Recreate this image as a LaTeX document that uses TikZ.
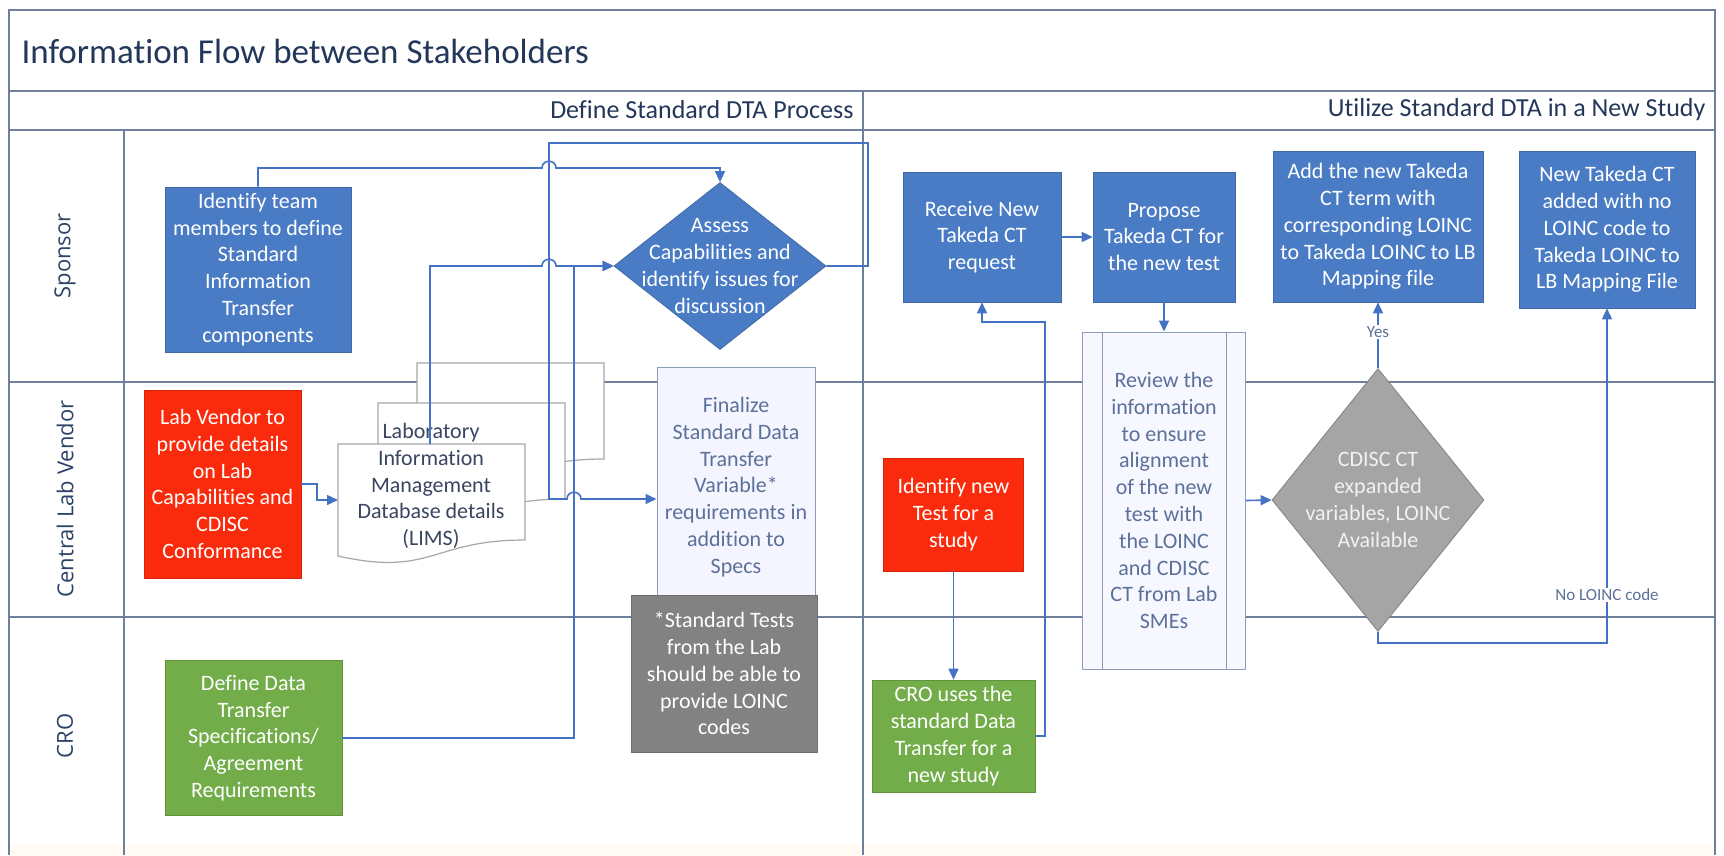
\documentclass[tikz,border=0pt]{standalone}
\usepackage{fontspec}
\setmainfont{Carlito}[Ligatures={NoCommon}]
\newfontfamily\lanefont{Open Sans}
\usetikzlibrary{shapes.geometric,arrows.meta}
\definecolor{frameC}{HTML}{6F7F9C}
\definecolor{blueC}{HTML}{4A7CC5}
\definecolor{redC}{HTML}{FA2B0C}
\definecolor{greenC}{HTML}{72AD4A}
\definecolor{noteC}{HTML}{828282}
\definecolor{diaC}{HTML}{A5A5A5}
\definecolor{lineC}{HTML}{4472C4}
\definecolor{titleC}{HTML}{23375A}
\definecolor{softC}{HTML}{5B7199}
\definecolor{laneC}{HTML}{2C4266}
\definecolor{docC}{HTML}{A6A6A6}
\definecolor{docT}{HTML}{3A4560}
\definecolor{bandC}{HTML}{FFFBF3}
\begin{document}
\begin{tikzpicture}[x=1pt,y=-1pt,
  font=\fontsize{22}{26.8}\selectfont,
  frame/.style={draw=frameC,line width=1.8pt},
  box/.style={rectangle,inner sep=0pt,align=center,text=white},
  bluebox/.style={box,fill=blueC,draw=blueC!85!black,line width=0.6pt},
  redbox/.style={box,fill=redC,draw=redC!85!black,line width=0.6pt},
  greenbox/.style={box,fill=greenC,draw=greenC!85!black,line width=0.6pt},
  notebox/.style={box,fill=noteC,draw=noteC!85!black,line width=0.6pt},
  softbox/.style={box,text=softC,draw=softC!70!white,line width=1pt},
  dia/.style={diamond,inner sep=0pt,line width=0.8pt},
  lbl/.style={inner sep=0pt,align=center},
  lane/.style={rotate=90,text=laneC,font=\lanefont\fontsize{22}{26}\selectfont},
  docst/.style={fill=white,draw=docC,line width=1.2pt},
  conn/.style={draw=lineC,line width=1.6pt,-{Triangle[length=11pt,width=10pt]}},
  cond/.style={fill=white,text=softC,inner sep=1.5pt,font=\fontsize{17}{20}\selectfont}
]
\useasboundingbox (0,0) rectangle (1724,855);
\fill[white] (0,0) rectangle (1724,855);
\fill[bandC] (9,845) rectangle (1715,855);

% frame
\draw[frame] (9,855) -- (9,10) -- (1715,10) -- (1715,855);
\draw[frame] (9,91) -- (1715,91);
\draw[frame] (9,130) -- (1715,130);
\draw[frame] (9,382) -- (1715,382);
\draw[frame] (9,617) -- (1715,617);
\draw[frame] (124,130) -- (124,855);
\draw[frame] (863,91) -- (863,855);

\node[anchor=west,text=titleC,font=\fontsize{35}{40}\selectfont] (title) at (18,51) {Information Flow between Stakeholders};
\node[anchor=east,text=titleC,font=\fontsize{26}{30}\selectfont] (ph1) at (857,110) {Define Standard DTA Process};
\node[anchor=east,text=titleC,font=\fontsize{26}{30}\selectfont] (ph2) at (1709,110) {Utilize Standard DTA in a New Study};

\node[lane] (l1) at (65,256) {Sponsor};
\node[lane] (l2) at (65,499) {Central Lab Vendor};
\node[lane] (l3) at (65,736) {CRO};

% documents (LIMS)
\filldraw[docst] (417,363) -- (604,363) -- (604,459) .. controls (510.5,459) and (510.5,496) .. (417,475) -- cycle;
\filldraw[docst] (378,403) -- (565,403) -- (565,499) .. controls (471.5,499) and (471.5,536) .. (378,515) -- cycle;
\filldraw[docst] (338,444) -- (525,444) -- (525,540) .. controls (431.5,540) and (431.5,577) .. (338,556) -- cycle;
\coordinate (Dtop) at (430,444);
\coordinate (Dleft) at (338,500);
\node[lbl,text=docT] (D) at (431,486) {Laboratory\\Information\\Management\\Database details\\(LIMS)};

% left phase nodes
\node[bluebox,minimum width=186,minimum height=165] (A) at (258,269.5) {Identify team\\members to define\\Standard\\Information\\Transfer\\components};
\node[dia,fill=blueC,draw=blueC!85!black,minimum width=212,minimum height=167] (B) at (720,266) {};
\node[lbl,text=white] (Bt) at (720,266) {Assess\\Capabilities and\\identify issues for\\discussion};
\node[redbox,minimum width=157,minimum height=188] (C) at (222.5,484) {Lab Vendor to\\provide details\\on Lab\\Capabilities and\\CDISC\\Conformance};
\node[softbox,fill=blue!4!white,minimum width=158,minimum height=240] (E) at (736,487) {Finalize\\Standard Data\\Transfer\\Variable*\\requirements in\\addition to\\Specs};
\node[notebox,minimum width=186,minimum height=157] (Nt) at (724,673.5) {*Standard Tests\\from the Lab\\should be able to\\provide LOINC\\codes};
\node[greenbox,minimum width=177,minimum height=155] (F) at (253.5,738) {Define Data\\Transfer\\Specifications/\\Agreement\\Requirements};

% right phase nodes
\node[bluebox,minimum width=158,minimum height=130] (G) at (982,237) {Receive New\\Takeda CT\\request};
\node[bluebox,minimum width=142,minimum height=130] (H) at (1164,237) {Propose\\Takeda CT for\\the new test};
\node[bluebox,minimum width=210,minimum height=151] (I) at (1378,226.5) {Add the new Takeda\\CT term with\\corresponding LOINC\\to Takeda LOINC to LB\\Mapping file};
\node[bluebox,minimum width=176,minimum height=157] (J) at (1607,229.5) {New Takeda CT\\added with no\\LOINC code to\\Takeda LOINC to\\LB Mapping File};
\node[softbox,fill=blue!3!white,minimum width=163,minimum height=337] (K) at (1164,500.5) {Review the\\information\\to ensure\\alignment\\of the new\\test with\\the LOINC\\and CDISC\\CT from Lab\\SMEs};
\draw[draw=softC!70!white,line width=1pt] ([xshift=20pt]K.north west) -- ([xshift=20pt]K.south west);
\draw[draw=softC!70!white,line width=1pt] ([xshift=-20pt]K.north east) -- ([xshift=-20pt]K.south east);
\node[dia,fill=diaC,draw=noteC,minimum width=212,minimum height=263] (L) at (1378,500) {};
\node[lbl,text=white!95!black] (Lt) at (1378,500) {CDISC CT\\expanded\\variables, LOINC\\Available};
\node[redbox,minimum width=140,minimum height=113] (M) at (953.5,514.5) {Identify new\\Test for a\\study};
\node[greenbox,minimum width=163,minimum height=112] (N) at (953.5,736) {CRO uses the\\standard Data\\Transfer for a\\new study};

% connectors, left phase
\draw[conn] (A.north) -- (258,168) -- (542,168) .. controls +(0,-9) and +(0,-9) .. (556,168) -- (720,168) -- (B.north);
\draw[conn] (B.east) -- (868,266) -- (868,143) -- (549,143) -- (549,499) -- (567,499) .. controls +(0,-9) and +(0,-9) .. (581,499) -- ([yshift=-12pt]E.west);
\draw[conn] (Dtop) -- (430,266) -- (542,266) .. controls +(0,-9) and +(0,-9) .. (556,266) -- (B.west);
\draw[conn] (F.east) -- (574,738) -- (574,266) -- (B.west);
\draw[conn] (C.east) -- (317,484) -- (317,500) -- (Dleft);

% connectors, right phase
\draw[conn] (G.east) -- (H.west);
\draw[conn] (H.south) -- (K.north);
\draw[conn] (K.east) -- (L.west);
\draw[conn] (L.north) -- (I.south);
\draw[conn] (L.south) -- (1378,643) -- (1607,643) -- (J.south);
\draw[conn] (N.east) -- (1045,736) -- (1045,322) -- (982,322) -- (G.south);
\draw[conn] (M.south) -- (N.north);

\node[cond] (yes) at (1378,332) {Yes};
\node[cond] (nol) at (1607,595) {No LOINC code};
\end{tikzpicture}
\end{document}
